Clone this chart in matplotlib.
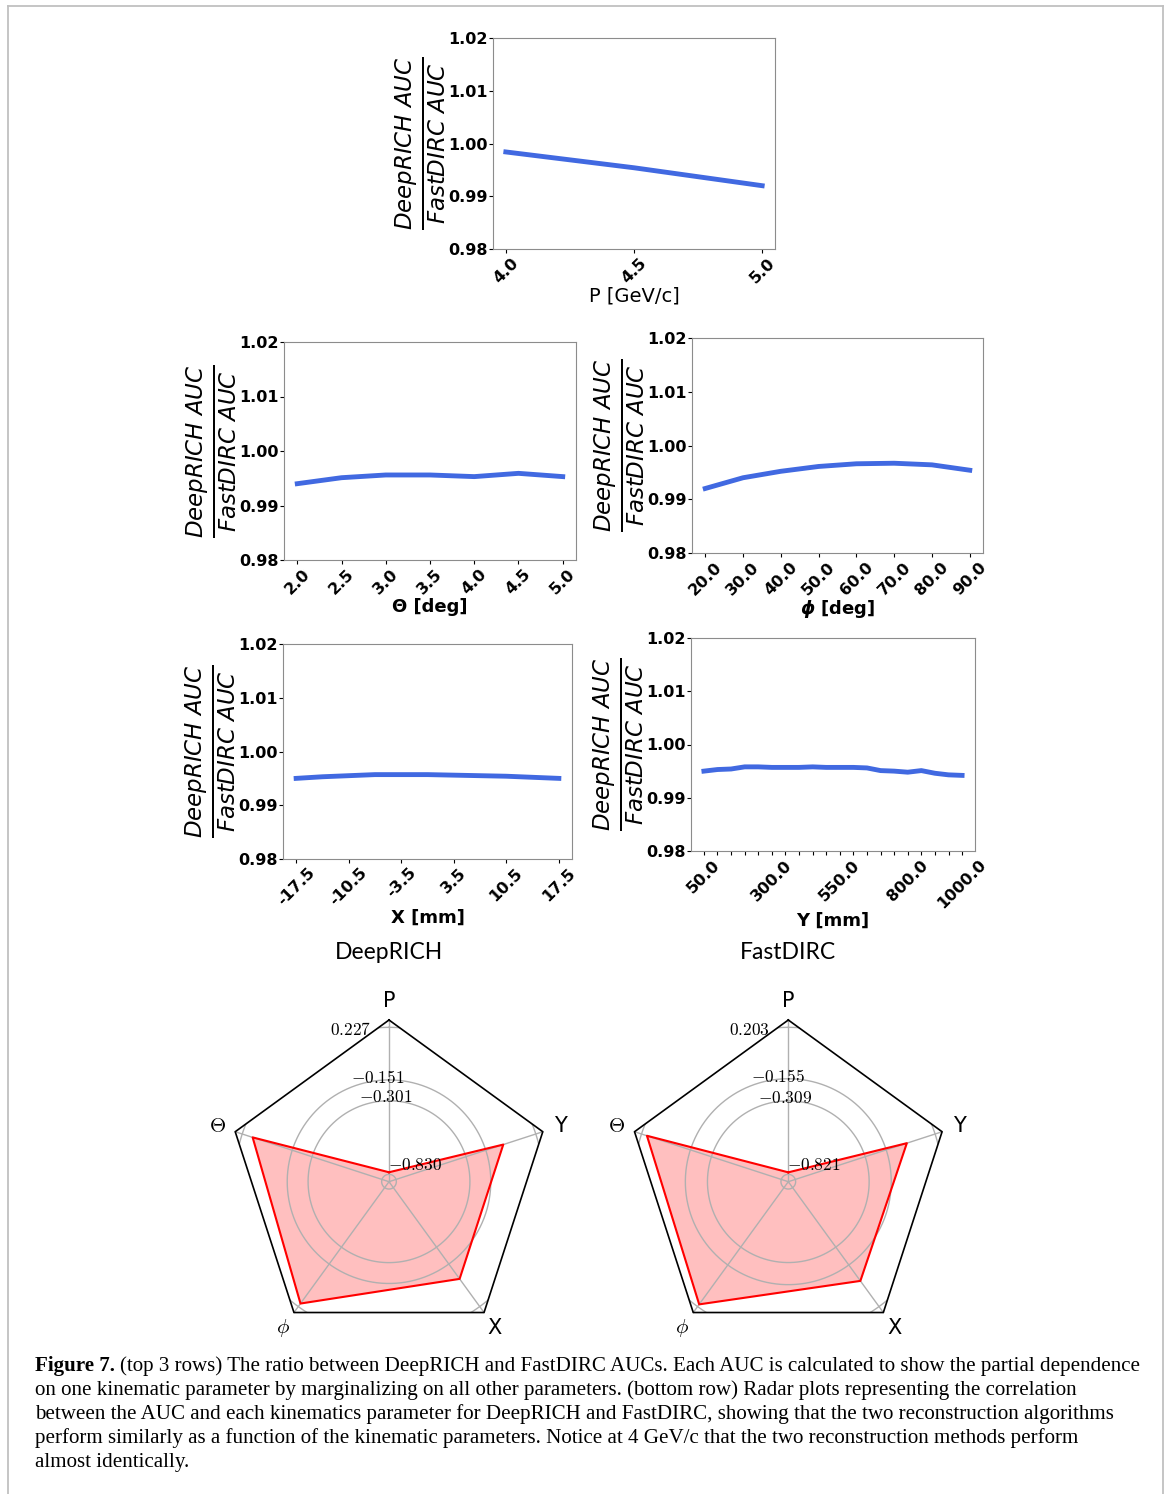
import numpy as np
import matplotlib
matplotlib.use('Agg')
from matplotlib import pyplot as plt
from matplotlib.lines import Line2D
from matplotlib.patches import Polygon
from matplotlib.ticker import FormatStrFormatter

W, H = 1170, 1494

# DeepRICH AUC / FastDIRC AUC, partial dependence on each kinematic parameter
p_vals = [4.0, 4.25, 4.5, 4.75, 5.0]
p_ratio = [0.9984, 0.9969, 0.9954, 0.9937, 0.9920]
p_ticks = [4.0, 4.5, 5.0]

theta_vals = [2.0, 2.5, 3.0, 3.5, 4.0, 4.5, 5.0]
theta_ratio = [0.9940, 0.9951, 0.9956, 0.9956, 0.9953, 0.9959, 0.9953]

phi_vals = [20.0, 30.0, 40.0, 50.0, 60.0, 70.0, 80.0, 90.0]
phi_ratio = [0.9920, 0.9940, 0.9952, 0.9961, 0.9966, 0.9967, 0.9964, 0.9954]

x_vals = [-17.5, -14.0, -10.5, -7.0, -3.5, 0.0, 3.5, 7.0, 10.5, 14.0, 17.5]
x_ratio = [0.9950, 0.9953, 0.9955, 0.9957, 0.9957, 0.9957, 0.9956, 0.9955, 0.9954, 0.9952, 0.9950]
x_ticks = [-17.5, -10.5, -3.5, 3.5, 10.5, 17.5]

y_vals = [50, 100, 150, 200, 250, 300, 350, 400, 450, 500,
          550, 600, 650, 700, 750, 800, 850, 900, 950, 1000]
y_ratio = [0.9950, 0.9953, 0.9954, 0.9958, 0.9958, 0.9957, 0.9957, 0.9957, 0.9958, 0.9957,
           0.9957, 0.9957, 0.9956, 0.9951, 0.9950, 0.9948, 0.9951, 0.9946, 0.9943, 0.9942]
y_labelled = [50, 300, 550, 800, 1000]

# radar plots: correlation between AUC and each kinematic parameter
radar_names = ['P', r'$\Theta$', r'$\phi$', 'X', 'Y']
deeprich_corr = [-0.815, 0.148, 0.200, -0.019, -0.019]
fastdirc_corr = [-0.807, 0.163, 0.184, -0.018, -0.004]
deeprich_grid = [-0.830, -0.301, -0.151, 0.227]
fastdirc_grid = [-0.821, -0.309, -0.155, 0.203]

caption_head = "Figure 7."
caption_lines = [
    "(top 3 rows) The ratio between DeepRICH and FastDIRC AUCs. Each AUC is calculated to show the partial dependence",
    "on one kinematic parameter by marginalizing on all other parameters. (bottom row) Radar plots representing the correlation",
    "between the AUC and each kinematics parameter for DeepRICH and FastDIRC, showing that the two reconstruction algorithms",
    "perform similarly as a function of the kinematic parameters. Notice at 4 GeV/c that the two reconstruction methods perform",
    "almost identically.",
]

fig = plt.figure(figsize=(W / 100, H / 100), dpi=100)

ylab = r'$\frac{DeepRICH\ AUC}{FastDIRC\ AUC}$'


def px_rect(left, top, right, bottom):
    return [left / W, 1 - bottom / H, (right - left) / W, (bottom - top) / H]


def ratio_panel(box, xs, ys, xlabel, ticks, labels, bold=True, xfs=13):
    ax = fig.add_axes(px_rect(*box))
    ax.plot(xs, ys, color='royalblue', lw=3.5)
    ax.set_ylim(0.98, 1.02)
    ax.set_yticks([0.98, 0.99, 1.00, 1.01, 1.02])
    ax.yaxis.set_major_formatter(FormatStrFormatter('%.2f'))
    ax.set_xticks(ticks)
    ax.set_xticklabels(labels, rotation=45)
    ax.tick_params(labelsize=11.5, length=3, pad=1.5)
    ax.tick_params(axis='y', pad=1)
    for lab in ax.get_xticklabels() + ax.get_yticklabels():
        lab.set_fontweight('bold')
    for sp in ax.spines.values():
        sp.set_color('#8c8c8c')
    ax.set_ylabel(ylab, fontsize=23.5, labelpad=0)
    ax.set_xlabel(xlabel, fontsize=xfs, fontweight='bold' if bold else 'normal', labelpad=0.5)
    return ax


ratio_panel((493, 38, 775, 249), p_vals, p_ratio, 'P [GeV/c]',
            p_ticks, ['%.1f' % t for t in p_ticks], bold=False, xfs=14)
ratio_panel((284, 342, 576, 560), theta_vals, theta_ratio, 'Θ [deg]',
            theta_vals, ['%.1f' % t for t in theta_vals])
ratio_panel((692, 338, 983, 553), phi_vals, phi_ratio, r'$\boldsymbol{\phi}$ [deg]',
            phi_vals, ['%.1f' % t for t in phi_vals])
ratio_panel((283, 644, 572, 859), x_vals, x_ratio, 'X [mm]',
            x_ticks, ['%.1f' % t for t in x_ticks])
ratio_panel((691, 638, 975, 851), y_vals, y_ratio, 'Y [mm]',
            y_vals, ['%.1f' % v if v in y_labelled else '' for v in y_vals])


# offsets (points) of the radial value labels from their ring on the P axis,
# innermost ring first
ring_label_offsets = [(18.7, 7.0), (-2.3, 2.4), (-7.7, 1.6), (-27.9, -1.7)]


def radar(cx, cy, values, grid_vals, title):
    R = 161.7
    ax = fig.add_axes([(cx - R) / W, 1 - (cy + R) / H, 2 * R / W, 2 * R / H],
                      projection='polar')
    ax.set_theta_offset(np.pi / 2)
    span = grid_vals[-1] - grid_vals[0]
    rmin, rmax = grid_vals[0] - 0.05 * span, grid_vals[-1] + 0.05 * span
    ax.set_axis_off()

    ang = np.linspace(0, 2 * np.pi, len(values), endpoint=False)
    ang_c = np.append(ang, ang[0])
    frame = Polygon(np.column_stack([ang, np.full(len(ang), rmax)]), closed=True,
                    transform=ax.transData, fill=False)

    tt = np.linspace(0, 2 * np.pi, 400)
    for v in grid_vals:
        ln, = ax.plot(tt, np.full_like(tt, v), color='#b0b0b0', lw=1)
        ln.set_clip_path(frame)
    for a in ang:
        ax.plot([a, a], [rmin, rmax], color='#b0b0b0', lw=1, clip_on=False)
    ax.plot(ang_c, np.full(len(ang_c), rmax), color='black', lw=1.2, clip_on=False)

    vals_c = np.append(values, values[0])
    ax.fill(ang_c, vals_c, color='red', alpha=0.25, lw=0)
    ax.plot(ang_c, vals_c, color='red', lw=1.5)
    ax.set_ylim(rmin, rmax)

    r_lab = rmin + 1.115 * (rmax - rmin)
    for a, name in zip(ang, radar_names):
        ax.text(a, r_lab, name, ha='center', va='center', fontsize=15,
                math_fontfamily='cm', clip_on=False)
    for v, off in zip(grid_vals, ring_label_offsets):
        ax.annotate('$%.3f$' % v, xy=(0, v), xytext=off, textcoords='offset points',
                    ha='center', va='center', fontsize=12.5, math_fontfamily='cm',
                    annotation_clip=False)
    fig.text(cx / W, 1 - 952 / H, title, ha='center', va='center',
             fontsize=16.5, family='Lato')


radar(389, 1181.7, deeprich_corr, deeprich_grid, 'DeepRICH')
radar(788.3, 1181.7, fastdirc_corr, fastdirc_grid, 'FastDIRC')

# caption
cap_fs = 15.1
head = fig.text(35 / W, 1 - 1371 / H, caption_head, ha='left', va='baseline',
                fontsize=cap_fs, family='Liberation Serif', fontweight='bold')
fig.canvas.draw()
x1 = head.get_window_extent(fig.canvas.get_renderer()).x1
for i, line in enumerate(caption_lines):
    x0 = (x1 + 5) / W if i == 0 else 35 / W
    fig.text(x0, 1 - (1371 + 24 * i) / H, line, ha='left', va='baseline',
             fontsize=cap_fs, family='Liberation Serif')

# page border
border = dict(color='#c0c0c0', lw=1.3)
fig.add_artist(Line2D([7.8 / W, 7.8 / W], [0, 1 - 5.8 / H], **border))
fig.add_artist(Line2D([7.8 / W, 1163 / W], [1 - 5.8 / H, 1 - 5.8 / H], **border))
fig.add_artist(Line2D([1163 / W, 1163 / W], [0, 1 - 5.8 / H], **border))

fig.savefig('out.png', dpi=100)
